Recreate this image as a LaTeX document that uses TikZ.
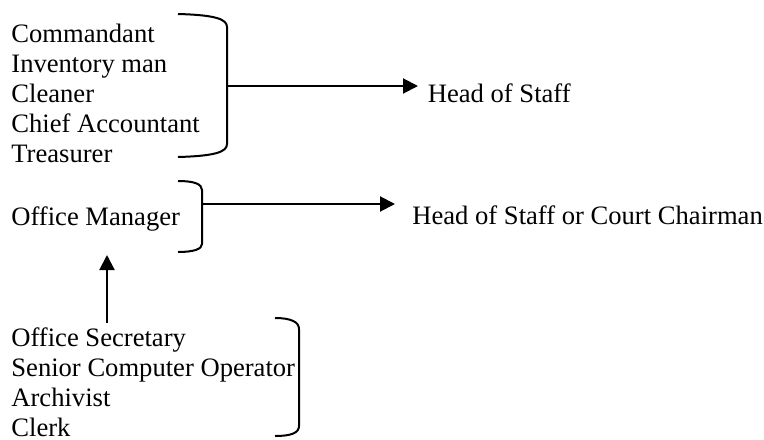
\documentclass[tikz,border=0pt]{standalone}
\usepackage{fontspec}
\setmainfont{Liberation Serif}
\usetikzlibrary{arrows.meta}
\tikzset{
  lbl/.style={anchor=base west,inner sep=0pt,font=\fontsize{13.3pt}{15pt}\selectfont},
  brace/.style={line width=1pt},
  arr/.style={line width=1pt,-{Triangle[length=7.5pt,width=7.5pt]}}
}
\begin{document}
\begin{tikzpicture}[x=5pt,y=-5pt]
\useasboundingbox (0,0) rectangle (76.4,43.9);
% first group
\node[lbl] (cmd) at (1.1,4.2) {Commandant};
\node[lbl] (inv) at (1.1,7.2) {Inventory man};
\node[lbl] (cln) at (1.1,10.2) {Cleaner};
\node[lbl] (acc) at (1.1,13.2) {Chief Accountant};
\node[lbl] (tre) at (1.1,16.2) {Treasurer};
\draw[brace] (17.8,1.4) .. controls (21.5,1.5) and (22.7,1.9) .. (22.7,2.7) -- (22.7,14.4) .. controls (22.7,15.2) and (21.5,15.6) .. (17.8,15.7);
\node[lbl] (hos) at (42.75,10.2) {Head of Staff};
\coordinate (m1) at (22.7,8.6);
\coordinate (t1) at (41.8,8.6);
\draw[arr] (m1) -- (t1);
% office manager
\node[lbl] (om) at (1.1,22.5) {Office Manager};
\draw[brace] (17.8,18.1) .. controls (19.4,18.1) and (20.2,18.4) .. (20.2,19.0) -- (20.2,24.4) .. controls (20.2,24.9) and (19.4,25.2) .. (17.8,25.2);
\node[lbl] (hcc) at (41.2,22.4) {Head of Staff or Court Chairman};
\coordinate (m2) at (20.2,20.4);
\coordinate (t2) at (39.5,20.4);
\draw[arr] (m2) -- (t2);
% third group
\node[lbl] (sec) at (1.1,34.6) {Office Secretary};
\node[lbl] (sco) at (1.1,37.6) {Senior Computer Operator};
\node[lbl] (arc) at (1.1,40.6) {Archivist};
\node[lbl] (clk) at (1.1,43.6) {Clerk};
\draw[brace] (27.5,31.8) .. controls (29.1,31.8) and (29.9,32.2) .. (29.9,32.9) -- (29.9,42.6) .. controls (29.9,43.3) and (29.1,43.6) .. (27.5,43.6);
\coordinate (up) at (10.7,32.3);
\coordinate (t3) at (10.7,25.5);
\draw[arr] (up) -- (t3);
\end{tikzpicture}
\end{document}
